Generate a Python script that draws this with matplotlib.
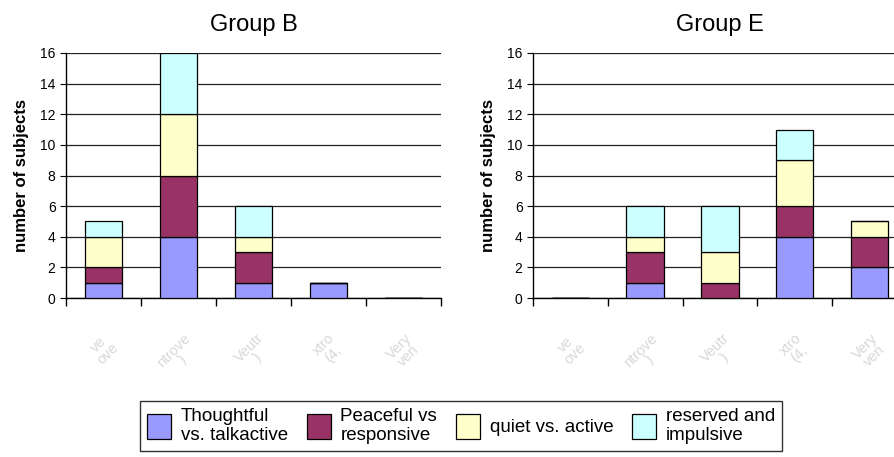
import matplotlib.pyplot as plt
import numpy as np

plt.rcParams["font.family"] = ["Liberation Sans", "DejaVu Sans"]

# clipped, faded category labels as they show in the original
categories = ["ve\nove", "ntrove\n)", "Veutr\n)", "xtro\n(4,", "Very\nven"]
series = ["Thoughtful\nvs. talkactive", "Peaceful vs\nresponsive", "quiet vs. active", "reserved and\nimpulsive"]
colors = ["#9999FF", "#993366", "#FFFFCC", "#CCFFFF"]

group_b = [
    [1, 4, 1, 1, 0],
    [1, 4, 2, 0, 0],
    [2, 4, 1, 0, 0],
    [1, 4, 2, 0, 0],
]
group_e = [
    [0, 1, 0, 4, 2],
    [0, 2, 1, 2, 2],
    [0, 1, 2, 3, 1],
    [0, 2, 3, 2, 0],
]

W, H = 895, 457
fig = plt.figure(figsize=(W / 100, H / 100), dpi=100)


def panel(x0, x1, title, data):
    top, bottom = 53, 298
    ax = fig.add_axes([x0 / W, 1 - bottom / H, (x1 - x0) / W, (bottom - top) / H])
    x = np.arange(len(categories))
    base = np.zeros(len(categories))
    for vals, color, label in zip(data, colors, series):
        ax.bar(x, vals, 0.5, bottom=base, color=color, edgecolor="black", linewidth=0.9,
               label=label, zorder=3)
        base += np.array(vals)
    ax.set_xlim(-0.5, len(categories) - 0.5)
    ax.set_ylim(0, 16)
    ax.set_yticks(range(0, 17, 2))
    ax.yaxis.grid(True, color="#222222", linewidth=0.9)
    ax.set_axisbelow(True)
    ax.set_xticks(np.arange(-0.5, len(categories), 1))
    ax.set_xticklabels([])
    ax.set_xticks(x, minor=True)
    ax.set_xticklabels(categories, minor=True, rotation=45, color="#d8d8d8", fontsize=10.5,
                       ha="center", va="top", linespacing=0.9)
    ax.tick_params(axis="x", which="minor", length=0, pad=24)
    ax.tick_params(axis="x", which="major", length=6, direction="out", width=1)
    ax.tick_params(axis="y", length=4, direction="out", labelsize=10)
    for s in ["top", "right"]:
        ax.spines[s].set_visible(False)
    ax.spines["left"].set_linewidth(1)
    ax.spines["bottom"].set_linewidth(1)
    ax.set_title(title, fontsize=17, pad=16)
    ax.set_ylabel("number of subjects", fontsize=12, fontweight="bold", labelpad=8)
    return ax


ax1 = panel(66, 441, "Group B", group_b)
ax2 = panel(533, 907, "Group E", group_e)

handles, labels = ax1.get_legend_handles_labels()
leg = fig.legend(handles, labels, loc="center", bbox_to_anchor=(461 / W, 1 - 426 / H), ncol=4,
                 fontsize=13.5, frameon=True, fancybox=False, edgecolor="black",
                 handlelength=1.3, handleheight=1.7, handletextpad=0.5, columnspacing=1.0,
                 borderpad=0.35, labelspacing=0.2)
leg.get_frame().set_linewidth(1)

fig.savefig("out.png", dpi=100)
